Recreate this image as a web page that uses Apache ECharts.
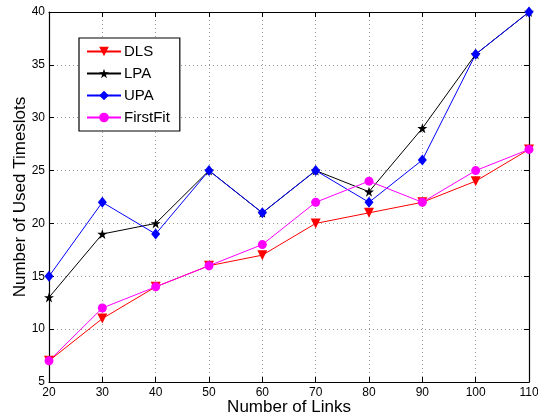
<!DOCTYPE html>
<html>
<head>
<meta charset="utf-8">
<script src="https://cdn.jsdelivr.net/npm/echarts@6/dist/echarts.min.js"></script>
<style>html,body{margin:0;padding:0;background:#fff;}#c{width:538px;height:416px;}</style>
</head>
<body>
<div id="c"></div>
<script>
const links = [20, 30, 40, 50, 60, 70, 80, 90, 100, 110];
const dls = [7, 11, 14, 16, 17, 20, 21, 22, 24, 27];
const lpa = [13, 19, 20, 25, 21, 25, 23, 29, 36, 40];
const upa = [15, 22, 19, 25, 21, 25, 22, 26, 36, 40];
const firstFit = [7, 12, 14, 16, 18, 22, 24, 22, 25, 27];
const xTicks = [20, 110, 10];
const yTicks = [5, 40, 5];

const FONT = '"Liberation Sans", Arial, sans-serif';
const star = 'path://M50,0 L61.8,36.2 L100,36.2 L69.1,58.8 L80.9,95.1 L50,72.7 L19.1,95.1 L30.9,58.8 L0,36.2 L38.2,36.2 Z';

function pairs(ys){ return links.map((x,i)=>[x, ys[i]]); }

function mk(name, data, color, symbol, size, rot){
  return {
    name, type:'line', data: pairs(data),
    symbol, symbolSize: size, symbolRotate: rot || 0,
    lineStyle:{color, width:1}, itemStyle:{color},
    xAxisIndex:0, yAxisIndex:0, animation:false
  };
}

const chart = echarts.init(document.getElementById('c'), null, {renderer:'canvas'});
const axisCommon = {
  axisLine:{show:true, lineStyle:{color:'#000', width:1.2}},
  axisTick:{show:true, inside:true, length:5, lineStyle:{color:'#000'}}
};
chart.setOption({
  backgroundColor:'#fff',
  animation:false,
  grid:{left:49, top:12, width:480, height:370, containLabel:false, outerBoundsMode:'none'},
  legend:{
    orient:'vertical', left:79, top:38,
    backgroundColor:'#fff', borderColor:'#000', borderWidth:1.2,
    padding:[6,10,6,7], itemGap:7, itemWidth:34, itemHeight:12,
    textStyle:{fontFamily:FONT, fontSize:15, color:'#000', padding:[0,0,0,-2]},
    data:['DLS','LPA','UPA','FirstFit']
  },
  xAxis:[
    Object.assign({
      type:'value', min:xTicks[0], max:xTicks[1], interval:xTicks[2], position:'bottom',
      name:'Number of Links', nameLocation:'middle', nameGap:17, nameMoveOverlap:false,
      nameTextStyle:{fontFamily:FONT, fontSize:17, color:'#000'},
      axisLabel:{fontFamily:FONT, fontSize:12, color:'#000', margin:5},
      splitLine:{show:true, lineStyle:{color:'#999', type:[1,3], width:1}}
    }, axisCommon),
    Object.assign({
      type:'value', min:xTicks[0], max:xTicks[1], interval:xTicks[2], position:'top',
      axisLabel:{show:false}, splitLine:{show:false}
    }, axisCommon)
  ],
  yAxis:[
    Object.assign({
      type:'value', min:yTicks[0], max:yTicks[1], interval:yTicks[2], position:'left',
      name:'Number of Used Timeslots', nameLocation:'middle', nameGap:20, nameMoveOverlap:false,
      nameTextStyle:{fontFamily:FONT, fontSize:17, color:'#000'},
      axisLabel:{fontFamily:FONT, fontSize:12, color:'#000', margin:4},
      splitLine:{show:true, lineStyle:{color:'#999', type:[1,3], width:1}}
    }, axisCommon),
    Object.assign({
      type:'value', min:yTicks[0], max:yTicks[1], interval:yTicks[2], position:'right',
      axisLabel:{show:false}, splitLine:{show:false}
    }, axisCommon)
  ],
  series:[
    mk('DLS', dls, '#ff0000', 'triangle', 10, 180),
    mk('LPA', lpa, '#000000', star, 10),
    mk('UPA', upa, '#0000ff', 'diamond', [9,11]),
    mk('FirstFit', firstFit, '#ff00ff', 'circle', 9)
  ]
});
</script>
</body>
</html>
